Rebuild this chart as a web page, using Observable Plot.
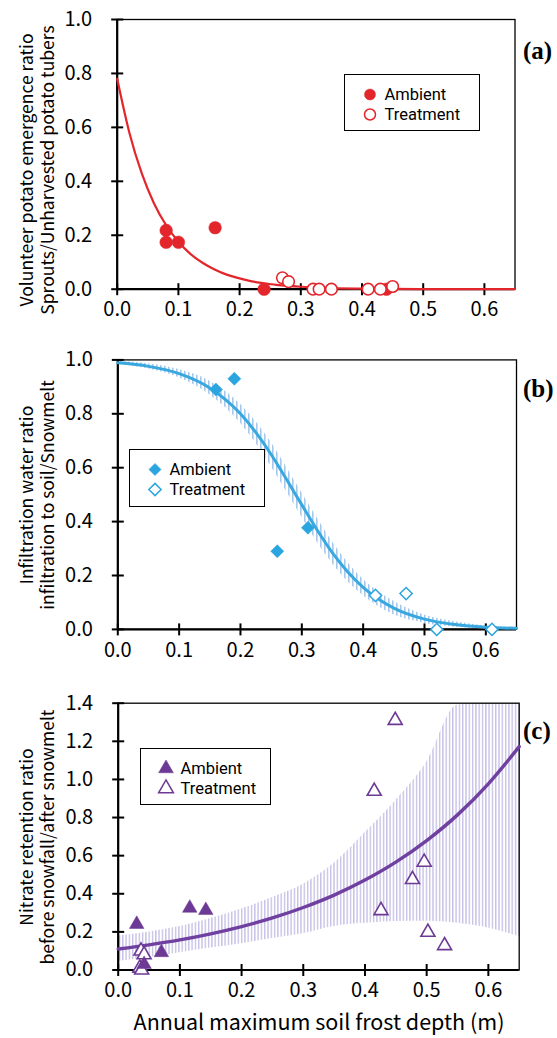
<!DOCTYPE html>
<html><head><meta charset="utf-8">
<script src="https://cdn.jsdelivr.net/npm/d3@7"></script>
<script src="https://cdn.jsdelivr.net/npm/@observablehq/plot@0.6"></script>
<style>
body{margin:0;background:#fff;}
#wrap{position:relative;width:557px;height:1038px;overflow:hidden;font-family:"Noto Sans CJK JP","Noto Sans",sans-serif;}
.panel{position:absolute;left:0;}
.panel text{font-size:20px !important;font-family:"Noto Sans CJK JP","Noto Sans",sans-serif !important;fill:#000;}
.legend{position:absolute;border:1.4px solid #000;background:#fff;box-sizing:border-box;}
.legend svg{position:absolute;left:0;top:0;overflow:visible;}
#overlay{position:absolute;left:0;top:0;pointer-events:none;}
</style></head><body><div id="wrap"></div>
<script>
// ---------- data ----------
const xTicks = [0, 0.1, 0.2, 0.3, 0.4, 0.5, 0.6];
const yTicksAB = [0, 0.2, 0.4, 0.6, 0.8, 1.0];
const yTicksC = [0, 0.2, 0.4, 0.6, 0.8, 1.0, 1.2, 1.4];

// (a) Volunteer potato emergence ratio
const aAmbientX = [0.08, 0.08, 0.10, 0.16, 0.24, 0.44];
const aAmbientY = [0.218, 0.174, 0.174, 0.228, 0.0, 0.0];
const aTreatX = [0.27, 0.28, 0.32, 0.33, 0.35, 0.41, 0.43, 0.45];
const aTreatY = [0.042, 0.028, 0.0, 0.0, 0.0, 0.0, 0.0, 0.01];
const aFitX = [0, 0.02, 0.04, 0.06, 0.08, 0.10, 0.12, 0.14, 0.16, 0.18, 0.20, 0.22, 0.24, 0.26, 0.28, 0.30, 0.35, 0.40, 0.45, 0.50, 0.55, 0.60, 0.65];
const aFitY = [0.78, 0.579, 0.430, 0.319, 0.237, 0.176, 0.130, 0.097, 0.072, 0.053, 0.040, 0.029, 0.022, 0.016, 0.012, 0.009, 0.004, 0.002, 0.001, 0.0005, 0.0002, 0.0001, 0.0];

// (b) Infiltration water ratio
const bAmbientX = [0.16, 0.19, 0.26, 0.31];
const bAmbientY = [0.89, 0.93, 0.29, 0.377];
const bTreatX = [0.42, 0.47, 0.52, 0.61];
const bTreatY = [0.126, 0.133, 0.0, 0.0];
const bFitX = [0, 0.05, 0.10, 0.15, 0.20, 0.225, 0.25, 0.275, 0.30, 0.325, 0.35, 0.375, 0.40, 0.45, 0.50, 0.55, 0.60, 0.65];
const bFitY = [0.989, 0.976, 0.949, 0.896, 0.800, 0.731, 0.649, 0.557, 0.462, 0.369, 0.284, 0.213, 0.156, 0.079, 0.038, 0.018, 0.008, 0.004];
const bBandHi = [0.994, 0.986, 0.964, 0.921, 0.835, 0.771, 0.694, 0.602, 0.507, 0.414, 0.324, 0.248, 0.186, 0.104, 0.053, 0.028, 0.013, 0.007];
const bBandLo = [0.984, 0.966, 0.934, 0.871, 0.765, 0.691, 0.604, 0.512, 0.417, 0.324, 0.244, 0.178, 0.126, 0.054, 0.023, 0.008, 0.003, 0.001];

// (c) Nitrate retention ratio
const cAmbientX = [0.03, 0.116, 0.142, 0.070, 0.042];
const cAmbientY = [0.24, 0.325, 0.313, 0.092, 0.03];
const cTreatX = [0.449, 0.415, 0.496, 0.477, 0.426, 0.502, 0.529, 0.037, 0.042, 0.035, 0.038];
const cTreatY = [1.31, 0.938, 0.566, 0.475, 0.312, 0.198, 0.128, 0.10, 0.08, 0.01, 0.0];
const cFitX = [0, 0.05, 0.10, 0.15, 0.20, 0.25, 0.30, 0.35, 0.40, 0.45, 0.50, 0.55, 0.60, 0.65];
const cFitY = [0.110, 0.132, 0.158, 0.190, 0.228, 0.273, 0.328, 0.393, 0.472, 0.566, 0.679, 0.814, 0.977, 1.172];
const cBandHi = [0.178, 0.20, 0.228, 0.27, 0.32, 0.38, 0.45, 0.56, 0.72, 0.89, 1.09, 1.39, 1.4, 1.4];
const cBandLo = [0.044, 0.065, 0.09, 0.115, 0.138, 0.165, 0.19, 0.228, 0.245, 0.255, 0.256, 0.245, 0.22, 0.175];

const xTitle = "Annual maximum soil frost depth (m)";
const legendLabels = ["Ambient", "Treatment"];

// ---------- helpers ----------
const zip = (xs, ys) => xs.map((x, i) => ({x, y: ys[i]}));
const zipBand = (xs, lo, hi) => xs.map((x, i) => ({x, lo: lo[i], hi: hi[i]}));
const FONT = '"Noto Sans CJK JP","Noto Sans",sans-serif';
const FONTA = "Noto Sans CJK JP, Noto Sans, sans-serif";
const vTick = {draw(ctx) { ctx.moveTo(0, -6); ctx.lineTo(0, 6); }};
const hTick = {draw(ctx) { ctx.moveTo(-6, 0); ctx.lineTo(6, 0); }};
const fmt = d3.format(".1f");

function panel({top, height, mt, mb, ml, mr, yDomain, yTicks, marks, defs}) {
  const svg = Plot.plot({
    width: 557, height,
    marginTop: mt, marginBottom: mb, marginLeft: ml, marginRight: mr,
    style: {fontFamily: FONT, fontSize: "20px", color: "#000", background: "transparent", overflow: "visible"},
    x: {domain: [0, 0.65], ticks: xTicks, tickFormat: fmt, tickSize: 0, tickPadding: 13, label: null},
    y: {domain: yDomain, ticks: yTicks, tickFormat: fmt, tickSize: 0, tickPadding: 25, label: null},
    marks: [
      ...marks.under,
      Plot.frame({stroke: "#000", strokeWidth: 1.3}),
      Plot.ruleX([0], {stroke: "#000", strokeWidth: 2.2}),
      Plot.ruleY([0], {stroke: "#000", strokeWidth: 2.2}),
      Plot.dot(xTicks, {x: d => d, y: () => 0, symbol: vTick, stroke: "#000", strokeWidth: 2, fill: "none"}),
      Plot.dot(yTicks, {x: () => 0, y: d => d, symbol: hTick, stroke: "#000", strokeWidth: 2, fill: "none"}),
      ...marks.over
    ]
  });
  if (defs) {
    const ns = "http://www.w3.org/2000/svg";
    const d = document.createElementNS(ns, "defs");
    d.innerHTML = defs;
    svg.insertBefore(d, svg.firstChild);
  }
  svg.classList.add("panel");
  svg.style.top = top + "px";
  svg.style.position = "absolute";
  document.getElementById("wrap").appendChild(svg);
  return svg;
}

const RED = "#e3262c", BLUE = "#2aa5df", BLUEL = "#38a8de", BLUEH = "#a6c8ea", PUR = "#6c3a95", PURL = "#7040a0", PURH = "#c7c1e6";

// (a)
panel({top: 0, height: 330, mt: 19, mb: 41.3, ml: 116.7, mr: 42.5, yDomain: [0, 1], yTicks: yTicksAB,
  marks: {under: [], over: [
    Plot.line(zip(aFitX, aFitY), {x: "x", y: "y", stroke: RED, strokeWidth: 2.2, curve: "monotone-x"}),
    Plot.dot(zip(aAmbientX, aAmbientY), {x: "x", y: "y", r: 6.3, fill: RED, stroke: RED, strokeWidth: 0.5}),
    Plot.dot(zip(aTreatX, aTreatY), {x: "x", y: "y", r: 5.8, fill: "#fff", stroke: RED, strokeWidth: 1.6})
  ]}});

// (b)
panel({top: 330, height: 330, mt: 29.4, mb: 31.1, ml: 117.3, mr: 41, yDomain: [0, 1], yTicks: yTicksAB,
  defs: `<pattern id="hatchB" patternUnits="userSpaceOnUse" width="4" height="10"><rect x="0" y="0" width="1.6" height="10" fill="${BLUEH}"/></pattern>`,
  marks: {under: [
    Plot.areaY(zipBand(bFitX, bBandLo, bBandHi), {x: "x", y1: "lo", y2: "hi", fill: "url(#hatchB)", curve: "monotone-x"})
  ], over: [
    Plot.line(zip(bFitX, bFitY), {x: "x", y: "y", stroke: BLUEL, strokeWidth: 3, curve: "monotone-x"}),
    Plot.dot(zip(bAmbientX, bAmbientY), {x: "x", y: "y", r: 5.9, symbol: "diamond2", fill: BLUE, stroke: BLUE, strokeWidth: 0.5}),
    Plot.dot(zip(bTreatX, bTreatY), {x: "x", y: "y", r: 5.5, symbol: "diamond2", fill: "#fff", stroke: BLUE, strokeWidth: 1.5})
  ]}});

// (c)
panel({top: 660, height: 378, mt: 42.7, mb: 68.5, ml: 117.7, mr: 38.3, yDomain: [0, 1.4], yTicks: yTicksC,
  defs: `<pattern id="hatchC" patternUnits="userSpaceOnUse" width="3.3" height="10"><rect x="0" y="0" width="1.4" height="10" fill="${PURH}"/></pattern>`,
  marks: {under: [
    Plot.areaY(zipBand(cFitX, cBandLo, cBandHi), {x: "x", y1: "lo", y2: "hi", fill: "url(#hatchC)", curve: "monotone-x"})
  ], over: [
    Plot.line(zip(cFitX, cFitY), {x: "x", y: "y", stroke: PURL, strokeWidth: 3.4, curve: "monotone-x"}),
    Plot.dot(zip(cTreatX, cTreatY), {x: "x", y: "y", r: 5.2, symbol: "triangle", fill: "#fff", stroke: PUR, strokeWidth: 1.6}),
    Plot.dot(zip(cAmbientX, cAmbientY), {x: "x", y: "y", r: 5.4, symbol: "triangle", fill: PUR, stroke: PUR, strokeWidth: 0.5})
  ]}});

// ---------- legends ----------
function legend(left, top, w, h, color, sym) {
  const div = document.createElement("div");
  div.className = "legend";
  Object.assign(div.style, {left: left + "px", top: top + "px", width: w + "px", height: h + "px"});
  const s = d3.symbol().type(sym).size(95)();
  div.innerHTML = `<svg width="${w}" height="${h}" style="font-family:Roboto, Noto Sans, sans-serif;font-size:16.5px">
    <path d="${s}" transform="translate(25,19.5)" fill="${color}" stroke="${color}" stroke-width="0.5"/>
    <path d="${s}" transform="translate(25,39.5)" fill="#fff" stroke="${color}" stroke-width="1.5"/>
    <text x="39.5" y="25.3">${legendLabels[0]}</text>
    <text x="39.5" y="45.3">${legendLabels[1]}</text></svg>`;
  document.getElementById("wrap").appendChild(div);
}
legend(343.5, 74, 136, 57, RED, d3.symbolCircle);
legend(129, 449.3, 136, 57.4, BLUE, d3.symbolDiamond2);
legend(140.3, 747.7, 130.6, 57.3, PUR, d3.symbolTriangle);

// ---------- labels overlay ----------
const ov = document.createElementNS("http://www.w3.org/2000/svg", "svg");
ov.id = "overlay"; ov.setAttribute("width", 557); ov.setAttribute("height", 1038);
const yLabels = [
  {cy: 170, l1: "Volunteer potato emergence ratio", l2: "Sprouts/Unharvested potato tubers"},
  {cy: 495, l1: "Infiltration water ratio", l2: "infiltration to soil/Snowmelt"},
  {cy: 837, l1: "Nitrate retention ratio", l2: "before snowfall/after snowmelt"}
];
let html = "";
for (const L of yLabels) {
  html += `<text transform="translate(33,${L.cy}) rotate(-90)" text-anchor="middle" font-size="17.5" font-family="${FONTA}">${L.l1}</text>`;
  html += `<text transform="translate(54,${L.cy}) rotate(-90)" text-anchor="middle" font-size="17.5" font-family="${FONTA}">${L.l2}</text>`;
}
for (const [t, y] of [["(a)", 59], ["(b)", 397], ["(c)", 739]]) {
  html += `<text x="523" y="${y}" font-family="Liberation Serif, serif" font-weight="bold" font-size="25">${t}</text>`;
}
html += `<text x="319" y="1030" text-anchor="middle" font-size="21.5" font-family="${FONTA}">${xTitle}</text>`;
ov.innerHTML = html;
document.getElementById("wrap").appendChild(ov);
</script></body></html>
